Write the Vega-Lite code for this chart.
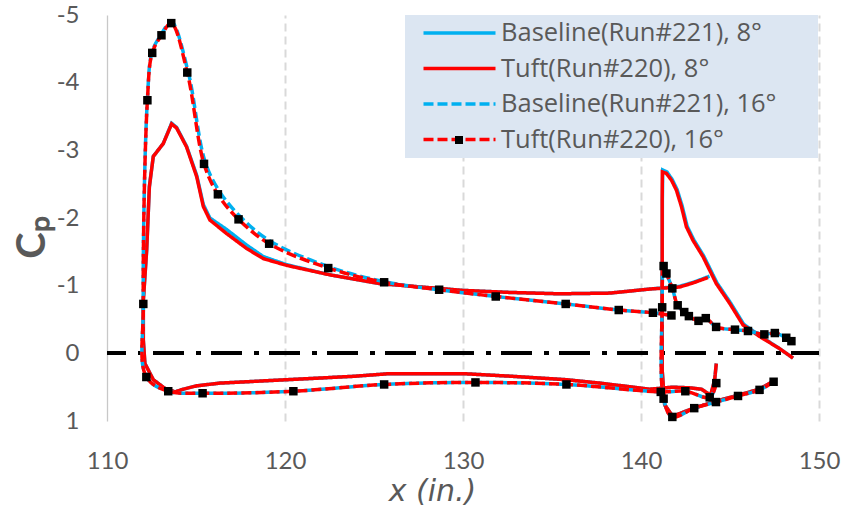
{
 "$schema": "https://vega.github.io/schema/vega-lite/v6.json",
 "width": 712, "height": 406,
 "autosize": "none",
 "padding": {"left": 107, "top": 15, "right": 29, "bottom": 94},
 "background": "white",
 "config": {"view": {"stroke": null}, "font": "Lato"},
 "data": {"values": [
  {"s":"B8","g":"m","i":1,"x":144.23,"y":0.15},{"s":"B8","g":"m","i":2,"x":144.14,"y":0.39},{"s":"B8","g":"m","i":3,"x":143.91,"y":0.62},{"s":"B8","g":"m","i":4,"x":143.40,"y":0.53},{"s":"B8","g":"m","i":5,"x":142.73,"y":0.51},{"s":"B8","g":"m","i":6,"x":141.78,"y":0.50},{"s":"B8","g":"m","i":7,"x":140.49,"y":0.53},{"s":"B8","g":"m","i":8,"x":137.68,"y":0.44},{"s":"B8","g":"m","i":9,"x":135.81,"y":0.39},{"s":"B8","g":"m","i":10,"x":132.80,"y":0.34},{"s":"B8","g":"m","i":11,"x":129.99,"y":0.30},{"s":"B8","g":"m","i":12,"x":125.89,"y":0.30},{"s":"B8","g":"m","i":13,"x":123.83,"y":0.34},{"s":"B8","g":"m","i":14,"x":120.09,"y":0.39},{"s":"B8","g":"m","i":15,"x":116.34,"y":0.44},{"s":"B8","g":"m","i":16,"x":115.04,"y":0.48},{"s":"B8","g":"m","i":17,"x":114.28,"y":0.53},{"s":"B8","g":"m","i":18,"x":113.82,"y":0.57},{"s":"B8","g":"m","i":19,"x":113.26,"y":0.52},{"s":"B8","g":"m","i":20,"x":112.60,"y":0.39},{"s":"B8","g":"m","i":21,"x":112.13,"y":0.15},{"s":"B8","g":"m","i":22,"x":112.04,"y":-0.20},{"s":"B8","g":"m","i":23,"x":112.04,"y":-0.78},{"s":"B8","g":"m","i":24,"x":112.23,"y":-1.53},{"s":"B8","g":"m","i":25,"x":112.38,"y":-2.46},{"s":"B8","g":"m","i":26,"x":112.60,"y":-2.91},{"s":"B8","g":"m","i":27,"x":113.16,"y":-3.10},{"s":"B8","g":"m","i":28,"x":113.63,"y":-3.40},{"s":"B8","g":"m","i":29,"x":113.91,"y":-3.34},{"s":"B8","g":"m","i":30,"x":114.47,"y":-3.06},{"s":"B8","g":"m","i":31,"x":115.04,"y":-2.63},{"s":"B8","g":"m","i":32,"x":115.41,"y":-2.20},{"s":"B8","g":"m","i":33,"x":115.78,"y":-2.00},{"s":"B8","g":"m","i":34,"x":116.72,"y":-1.83},{"s":"B8","g":"m","i":35,"x":117.84,"y":-1.60},{"s":"B8","g":"m","i":36,"x":118.78,"y":-1.43},{"s":"B8","g":"m","i":37,"x":120.09,"y":-1.31},{"s":"B8","g":"m","i":38,"x":122.52,"y":-1.16},{"s":"B8","g":"m","i":39,"x":125.33,"y":-1.03},{"s":"B8","g":"m","i":40,"x":130.01,"y":-0.93},{"s":"B8","g":"m","i":41,"x":132.63,"y":-0.90},{"s":"B8","g":"m","i":42,"x":135.43,"y":-0.88},{"s":"B8","g":"m","i":43,"x":138.24,"y":-0.89},{"s":"B8","g":"m","i":44,"x":140.49,"y":-0.95},{"s":"B8","g":"m","i":45,"x":142.17,"y":-0.99},{"s":"B8","g":"m","i":46,"x":142.95,"y":-1.05},{"s":"B8","g":"m","i":47,"x":143.85,"y":-1.14},
  {"s":"B8","g":"f","i":1,"x":147.45,"y":0.41},{"s":"B8","g":"f","i":2,"x":146.66,"y":0.53},{"s":"B8","g":"f","i":3,"x":145.43,"y":0.62},{"s":"B8","g":"f","i":4,"x":144.19,"y":0.71},{"s":"B8","g":"f","i":5,"x":142.96,"y":0.81},{"s":"B8","g":"f","i":6,"x":141.78,"y":0.93},{"s":"B8","g":"f","i":7,"x":141.33,"y":0.76},{"s":"B8","g":"f","i":8,"x":141.19,"y":0.25},{"s":"B8","g":"f","i":9,"x":141.19,"y":-0.79},{"s":"B8","g":"f","i":10,"x":141.20,"y":-2.27},{"s":"B8","g":"f","i":11,"x":141.22,"y":-2.71},{"s":"B8","g":"f","i":12,"x":141.46,"y":-2.68},{"s":"B8","g":"f","i":13,"x":141.75,"y":-2.57},{"s":"B8","g":"f","i":14,"x":142.03,"y":-2.42},{"s":"B8","g":"f","i":15,"x":142.31,"y":-2.18},{"s":"B8","g":"f","i":16,"x":142.59,"y":-1.88},{"s":"B8","g":"f","i":17,"x":142.96,"y":-1.68},{"s":"B8","g":"f","i":18,"x":143.52,"y":-1.44},{"s":"B8","g":"f","i":19,"x":144.27,"y":-1.04},{"s":"B8","g":"f","i":20,"x":145.02,"y":-0.75},{"s":"B8","g":"f","i":21,"x":145.77,"y":-0.43},{"s":"B8","g":"f","i":22,"x":146.68,"y":-0.26},{"s":"B8","g":"f","i":23,"x":147.78,"y":-0.07},{"s":"B8","g":"f","i":24,"x":148.54,"y":0.07},

  {"s":"T8","g":"m","i":1,"x":144.23,"y":0.15},{"s":"T8","g":"m","i":2,"x":144.14,"y":0.39},{"s":"T8","g":"m","i":3,"x":143.91,"y":0.62},{"s":"T8","g":"m","i":4,"x":143.40,"y":0.53},{"s":"T8","g":"m","i":5,"x":142.73,"y":0.51},{"s":"T8","g":"m","i":6,"x":141.78,"y":0.50},{"s":"T8","g":"m","i":7,"x":140.49,"y":0.53},{"s":"T8","g":"m","i":8,"x":137.68,"y":0.44},{"s":"T8","g":"m","i":9,"x":135.81,"y":0.39},{"s":"T8","g":"m","i":10,"x":132.80,"y":0.34},{"s":"T8","g":"m","i":11,"x":129.99,"y":0.30},{"s":"T8","g":"m","i":12,"x":125.89,"y":0.30},{"s":"T8","g":"m","i":13,"x":123.83,"y":0.34},{"s":"T8","g":"m","i":14,"x":120.09,"y":0.39},{"s":"T8","g":"m","i":15,"x":116.34,"y":0.44},{"s":"T8","g":"m","i":16,"x":115.04,"y":0.48},{"s":"T8","g":"m","i":17,"x":114.28,"y":0.53},{"s":"T8","g":"m","i":18,"x":113.82,"y":0.57},{"s":"T8","g":"m","i":19,"x":113.26,"y":0.52},{"s":"T8","g":"m","i":20,"x":112.60,"y":0.39},{"s":"T8","g":"m","i":21,"x":112.13,"y":0.15},{"s":"T8","g":"m","i":22,"x":112.04,"y":-0.20},{"s":"T8","g":"m","i":23,"x":112.04,"y":-0.78},{"s":"T8","g":"m","i":24,"x":112.23,"y":-1.53},{"s":"T8","g":"m","i":25,"x":112.38,"y":-2.46},{"s":"T8","g":"m","i":26,"x":112.60,"y":-2.91},{"s":"T8","g":"m","i":27,"x":113.16,"y":-3.10},{"s":"T8","g":"m","i":28,"x":113.63,"y":-3.39},{"s":"T8","g":"m","i":29,"x":113.91,"y":-3.33},{"s":"T8","g":"m","i":30,"x":114.47,"y":-3.05},{"s":"T8","g":"m","i":31,"x":115.04,"y":-2.61},{"s":"T8","g":"m","i":32,"x":115.41,"y":-2.17},{"s":"T8","g":"m","i":33,"x":115.78,"y":-1.97},{"s":"T8","g":"m","i":34,"x":116.72,"y":-1.77},{"s":"T8","g":"m","i":35,"x":117.84,"y":-1.55},{"s":"T8","g":"m","i":36,"x":118.78,"y":-1.40},{"s":"T8","g":"m","i":37,"x":120.09,"y":-1.30},{"s":"T8","g":"m","i":38,"x":122.52,"y":-1.16},{"s":"T8","g":"m","i":39,"x":125.33,"y":-1.03},{"s":"T8","g":"m","i":40,"x":130.01,"y":-0.93},{"s":"T8","g":"m","i":41,"x":132.63,"y":-0.90},{"s":"T8","g":"m","i":42,"x":135.43,"y":-0.88},{"s":"T8","g":"m","i":43,"x":138.24,"y":-0.89},{"s":"T8","g":"m","i":44,"x":140.49,"y":-0.95},{"s":"T8","g":"m","i":45,"x":142.17,"y":-0.98},{"s":"T8","g":"m","i":46,"x":142.92,"y":-1.04},{"s":"T8","g":"m","i":47,"x":143.76,"y":-1.12},
  {"s":"T8","g":"f","i":1,"x":147.45,"y":0.41},{"s":"T8","g":"f","i":2,"x":146.66,"y":0.53},{"s":"T8","g":"f","i":3,"x":145.43,"y":0.62},{"s":"T8","g":"f","i":4,"x":144.19,"y":0.71},{"s":"T8","g":"f","i":5,"x":142.96,"y":0.81},{"s":"T8","g":"f","i":6,"x":141.78,"y":0.93},{"s":"T8","g":"f","i":7,"x":141.33,"y":0.76},{"s":"T8","g":"f","i":8,"x":141.19,"y":0.25},{"s":"T8","g":"f","i":9,"x":141.19,"y":-0.79},{"s":"T8","g":"f","i":10,"x":141.19,"y":-2.27},{"s":"T8","g":"f","i":11,"x":141.20,"y":-2.68},{"s":"T8","g":"f","i":12,"x":141.42,"y":-2.66},{"s":"T8","g":"f","i":13,"x":141.71,"y":-2.56},{"s":"T8","g":"f","i":14,"x":141.99,"y":-2.41},{"s":"T8","g":"f","i":15,"x":142.27,"y":-2.17},{"s":"T8","g":"f","i":16,"x":142.55,"y":-1.87},{"s":"T8","g":"f","i":17,"x":142.92,"y":-1.67},{"s":"T8","g":"f","i":18,"x":143.48,"y":-1.43},{"s":"T8","g":"f","i":19,"x":144.23,"y":-1.03},{"s":"T8","g":"f","i":20,"x":144.98,"y":-0.74},{"s":"T8","g":"f","i":21,"x":145.73,"y":-0.42},{"s":"T8","g":"f","i":22,"x":146.66,"y":-0.25},{"s":"T8","g":"f","i":23,"x":147.78,"y":-0.07},{"s":"T8","g":"f","i":24,"x":148.54,"y":0.07},

  {"s":"B16","g":"m","i":1,"x":144.23,"y":0.44},{"s":"B16","g":"m","i":2,"x":143.86,"y":0.65},{"s":"B16","g":"m","i":3,"x":142.49,"y":0.56},{"s":"B16","g":"m","i":4,"x":141.11,"y":0.57},{"s":"B16","g":"m","i":5,"x":135.81,"y":0.46},{"s":"B16","g":"m","i":6,"x":130.70,"y":0.43},{"s":"B16","g":"m","i":7,"x":125.57,"y":0.46},{"s":"B16","g":"m","i":8,"x":120.47,"y":0.56},{"s":"B16","g":"m","i":9,"x":115.37,"y":0.59},{"s":"B16","g":"m","i":10,"x":113.44,"y":0.56},{"s":"B16","g":"m","i":11,"x":112.21,"y":0.35},{"s":"B16","g":"m","i":12,"x":112.04,"y":-0.73},{"s":"B16","g":"m","i":13,"x":112.27,"y":-3.76},{"s":"B16","g":"m","i":14,"x":112.54,"y":-4.46},{"s":"B16","g":"m","i":15,"x":113.06,"y":-4.72},{"s":"B16","g":"m","i":16,"x":113.61,"y":-4.90},{"s":"B16","g":"m","i":17,"x":114.55,"y":-4.17},{"s":"B16","g":"m","i":18,"x":115.50,"y":-2.84},{"s":"B16","g":"m","i":19,"x":116.30,"y":-2.40},{"s":"B16","g":"m","i":20,"x":117.45,"y":-2.03},{"s":"B16","g":"m","i":21,"x":119.15,"y":-1.66},{"s":"B16","g":"m","i":22,"x":122.45,"y":-1.28},{"s":"B16","g":"m","i":23,"x":125.57,"y":-1.06},{"s":"B16","g":"m","i":24,"x":128.66,"y":-0.94},{"s":"B16","g":"m","i":25,"x":131.84,"y":-0.84},{"s":"B16","g":"m","i":26,"x":135.77,"y":-0.73},{"s":"B16","g":"m","i":27,"x":138.75,"y":-0.64},{"s":"B16","g":"m","i":28,"x":140.67,"y":-0.60},{"s":"B16","g":"m","i":29,"x":141.71,"y":-0.56},
  {"s":"B16","g":"f","i":1,"x":147.45,"y":0.42},{"s":"B16","g":"f","i":2,"x":146.66,"y":0.54},{"s":"B16","g":"f","i":3,"x":145.45,"y":0.63},{"s":"B16","g":"f","i":4,"x":144.21,"y":0.72},{"s":"B16","g":"f","i":5,"x":142.99,"y":0.81},{"s":"B16","g":"f","i":6,"x":141.76,"y":0.94},{"s":"B16","g":"f","i":7,"x":141.27,"y":0.67},{"s":"B16","g":"f","i":8,"x":141.19,"y":-0.68},{"s":"B16","g":"f","i":9,"x":141.27,"y":-1.29},{"s":"B16","g":"f","i":10,"x":141.43,"y":-1.18},{"s":"B16","g":"f","i":11,"x":141.76,"y":-0.96},{"s":"B16","g":"f","i":12,"x":142.06,"y":-0.71},{"s":"B16","g":"f","i":13,"x":142.43,"y":-0.61},{"s":"B16","g":"f","i":14,"x":142.69,"y":-0.55},{"s":"B16","g":"f","i":15,"x":143.23,"y":-0.48},{"s":"B16","g":"f","i":16,"x":143.64,"y":-0.52},{"s":"B16","g":"f","i":17,"x":144.22,"y":-0.39},{"s":"B16","g":"f","i":18,"x":145.28,"y":-0.35},{"s":"B16","g":"f","i":19,"x":146.01,"y":-0.33},{"s":"B16","g":"f","i":20,"x":146.93,"y":-0.28},{"s":"B16","g":"f","i":21,"x":147.52,"y":-0.30},{"s":"B16","g":"f","i":22,"x":148.16,"y":-0.23},{"s":"B16","g":"f","i":23,"x":148.45,"y":-0.18},

  {"s":"T16","g":"m","i":1,"x":144.23,"y":0.44},{"s":"T16","g":"m","i":2,"x":143.86,"y":0.65},{"s":"T16","g":"m","i":3,"x":142.49,"y":0.56},{"s":"T16","g":"m","i":4,"x":141.11,"y":0.57},{"s":"T16","g":"m","i":5,"x":135.81,"y":0.46},{"s":"T16","g":"m","i":6,"x":130.70,"y":0.43},{"s":"T16","g":"m","i":7,"x":125.57,"y":0.46},{"s":"T16","g":"m","i":8,"x":120.47,"y":0.56},{"s":"T16","g":"m","i":9,"x":115.37,"y":0.59},{"s":"T16","g":"m","i":10,"x":113.44,"y":0.56},{"s":"T16","g":"m","i":11,"x":112.21,"y":0.35},{"s":"T16","g":"m","i":12,"x":112.04,"y":-0.73},{"s":"T16","g":"m","i":13,"x":112.27,"y":-3.74},{"s":"T16","g":"m","i":14,"x":112.54,"y":-4.44},{"s":"T16","g":"m","i":15,"x":113.06,"y":-4.70},{"s":"T16","g":"m","i":16,"x":113.61,"y":-4.88},{"s":"T16","g":"m","i":17,"x":114.51,"y":-4.15},{"s":"T16","g":"m","i":18,"x":115.45,"y":-2.80},{"s":"T16","g":"m","i":19,"x":116.23,"y":-2.35},{"s":"T16","g":"m","i":20,"x":117.39,"y":-1.98},{"s":"T16","g":"m","i":21,"x":119.11,"y":-1.62},{"s":"T16","g":"m","i":22,"x":122.43,"y":-1.26},{"s":"T16","g":"m","i":23,"x":125.57,"y":-1.05},{"s":"T16","g":"m","i":24,"x":128.66,"y":-0.94},{"s":"T16","g":"m","i":25,"x":131.84,"y":-0.84},{"s":"T16","g":"m","i":26,"x":135.77,"y":-0.73},{"s":"T16","g":"m","i":27,"x":138.75,"y":-0.64},{"s":"T16","g":"m","i":28,"x":140.67,"y":-0.60},{"s":"T16","g":"m","i":29,"x":141.71,"y":-0.56},
  {"s":"T16","g":"f","i":1,"x":147.45,"y":0.42},{"s":"T16","g":"f","i":2,"x":146.66,"y":0.54},{"s":"T16","g":"f","i":3,"x":145.45,"y":0.63},{"s":"T16","g":"f","i":4,"x":144.21,"y":0.72},{"s":"T16","g":"f","i":5,"x":142.99,"y":0.81},{"s":"T16","g":"f","i":6,"x":141.76,"y":0.94},{"s":"T16","g":"f","i":7,"x":141.27,"y":0.67},{"s":"T16","g":"f","i":8,"x":141.19,"y":-0.68},{"s":"T16","g":"f","i":9,"x":141.27,"y":-1.29},{"s":"T16","g":"f","i":10,"x":141.43,"y":-1.18},{"s":"T16","g":"f","i":11,"x":141.76,"y":-0.96},{"s":"T16","g":"f","i":12,"x":142.06,"y":-0.71},{"s":"T16","g":"f","i":13,"x":142.43,"y":-0.61},{"s":"T16","g":"f","i":14,"x":142.69,"y":-0.55},{"s":"T16","g":"f","i":15,"x":143.23,"y":-0.48},{"s":"T16","g":"f","i":16,"x":143.64,"y":-0.52},{"s":"T16","g":"f","i":17,"x":144.22,"y":-0.39},{"s":"T16","g":"f","i":18,"x":145.28,"y":-0.35},{"s":"T16","g":"f","i":19,"x":146.01,"y":-0.33},{"s":"T16","g":"f","i":20,"x":146.93,"y":-0.28},{"s":"T16","g":"f","i":21,"x":147.52,"y":-0.30},{"s":"T16","g":"f","i":22,"x":148.16,"y":-0.23},{"s":"T16","g":"f","i":23,"x":148.45,"y":-0.18}
 ]},
 "layer": [
  {"mark": {"type": "rule", "color": "black", "strokeWidth": 3.5, "strokeDash": [31, 10, 5, 12], "strokeDashOffset": 3},
   "encoding": {"y": {"datum": 0, "type": "quantitative"}}},
  {"transform": [{"filter": "datum.s === 'B8'"}],
   "mark": {"type": "line", "strokeWidth": 3.5, "interpolate": "linear"},
   "encoding": {
    "x": {"field": "x", "type": "quantitative", "scale": {"domain": [110, 150], "nice": false, "zero": false},
      "axis": {"values": [110, 120, 130, 140, 150], "labelFlush": false, "title": "x (in.)", "titleFont": "DejaVu Sans", "titleFontStyle": "italic", "titleFontWeight": "normal", "titleFontSize": 30, "titleColor": "#595959", "titleX": 325, "titlePadding": 3,
        "labelFontSize": 24, "labelColor": "#595959", "labelPadding": 28, "ticks": false, "domain": false,
        "gridColor": "#d9d9d9", "gridDash": [8, 5], "gridWidth": 2,
        "gridOpacity": {"condition": {"test": "datum.value === 110", "value": 0}, "value": 1}}},
    "y": {"field": "y", "type": "quantitative", "scale": {"domain": [-5, 1], "reverse": true, "nice": false, "zero": false},
      "axis": {"values": [-5, -4, -3, -2, -1, 0, 1], "labelFlush": false, "labelExpr": "toString(datum.value)", "title": "Cₚ", "titleFontSize": 40, "titleFontWeight": "bold", "titleColor": "#595959", "titlePadding": 4, "titleY": 222,
        "labelFontSize": 24, "labelColor": "#595959", "labelPadding": 28, "ticks": false, "domainColor": "#c8c8c8", "domainWidth": 1.3,
        "gridColor": "#d9d9d9", "gridDash": [4, 3], "gridWidth": 1}},
    "color": {"field": "s", "type": "nominal",
      "scale": {"domain": ["B8", "T8", "B16", "T16"], "range": ["#00b0f0", "#ff0000", "#00b0f0", "#ff0000"]},
      "legend": {"orient": "none", "legendX": 298, "legendY": 0, "title": null, "fillColor": "#dce6f2", "padding": 3,
        "symbolType": "stroke", "symbolSize": 5184, "symbolStrokeWidth": 3.5, "symbolOffset": 13.5, "labelOffset": 3.5,
        "labelFont": "Open Sans", "labelFontSize": 25.5, "labelColor": "#595959", "labelLimit": 500, "clipHeight": 30, "rowPadding": 5.5,
        "labelExpr": "(datum.label === 'B8' ? 'Baseline(Run#221), 8°' : datum.label === 'T8' ? 'Tuft(Run#220), 8°' : datum.label === 'B16' ? 'Baseline(Run#221), 16°' : 'Tuft(Run#220), 16°') + '\u2800\u2800'"}},
    "strokeDash": {"field": "s", "type": "nominal",
      "scale": {"domain": ["B8", "T8", "B16", "T16"], "range": [[1, 0], [1, 0], [10, 4], [10, 4]]},
      "legend": {"orient": "none", "legendX": 298, "legendY": 0, "title": null, "fillColor": "#dce6f2", "padding": 3,
        "symbolType": "stroke", "symbolSize": 5184, "symbolStrokeWidth": 3.5, "symbolOffset": 13.5, "labelOffset": 3.5,
        "labelFont": "Open Sans", "labelFontSize": 25.5, "labelColor": "#595959", "labelLimit": 500, "clipHeight": 30, "rowPadding": 5.5,
        "labelExpr": "(datum.label === 'B8' ? 'Baseline(Run#221), 8°' : datum.label === 'T8' ? 'Tuft(Run#220), 8°' : datum.label === 'B16' ? 'Baseline(Run#221), 16°' : 'Tuft(Run#220), 16°') + '\u2800\u2800'"}},
    "detail": {"field": "g"},
    "order": {"field": "i", "type": "quantitative"}
   }},
  {"transform": [{"filter": "datum.s === 'T8'"}],
   "mark": {"type": "line", "strokeWidth": 3.5, "interpolate": "linear"},
   "encoding": {
    "x": {"field": "x", "type": "quantitative"},
    "y": {"field": "y", "type": "quantitative"},
    "color": {"field": "s", "type": "nominal"},
    "strokeDash": {"field": "s", "type": "nominal"},
    "detail": {"field": "g"},
    "order": {"field": "i", "type": "quantitative"}
   }},
  {"transform": [{"filter": "datum.s === 'B16'"}],
   "mark": {"type": "line", "strokeWidth": 3.5, "interpolate": "catmull-rom", "strokeDashOffset": 7},
   "encoding": {
    "x": {"field": "x", "type": "quantitative"},
    "y": {"field": "y", "type": "quantitative"},
    "color": {"field": "s", "type": "nominal"},
    "strokeDash": {"field": "s", "type": "nominal"},
    "detail": {"field": "g"},
    "order": {"field": "i", "type": "quantitative"}
   }},
  {"transform": [{"filter": "datum.s === 'T16'"}],
   "mark": {"type": "line", "strokeWidth": 3.5, "interpolate": "catmull-rom"},
   "encoding": {
    "x": {"field": "x", "type": "quantitative"},
    "y": {"field": "y", "type": "quantitative"},
    "color": {"field": "s", "type": "nominal"},
    "strokeDash": {"field": "s", "type": "nominal"},
    "detail": {"field": "g"},
    "order": {"field": "i", "type": "quantitative"}
   }},
  {"transform": [{"filter": "datum.s === 'T16'"}],
   "mark": {"type": "point", "filled": true, "color": "black", "size": 72, "opacity": 1},
   "encoding": {
    "x": {"field": "x", "type": "quantitative"},
    "y": {"field": "y", "type": "quantitative"},
    "shape": {"field": "s", "type": "nominal", "scale": {"domain": ["T16"], "range": ["square"]},
      "legend": {"orient": "none", "legendX": 348, "legendY": 121, "title": null, "padding": 0, "fillColor": null, "strokeColor": null,
        "symbolFillColor": "black", "symbolStrokeWidth": 0, "symbolSize": 64, "symbolOpacity": 1, "labelFontSize": 1, "labelExpr": "''", "labelOffset": 0}}
   }}
 ]
}
